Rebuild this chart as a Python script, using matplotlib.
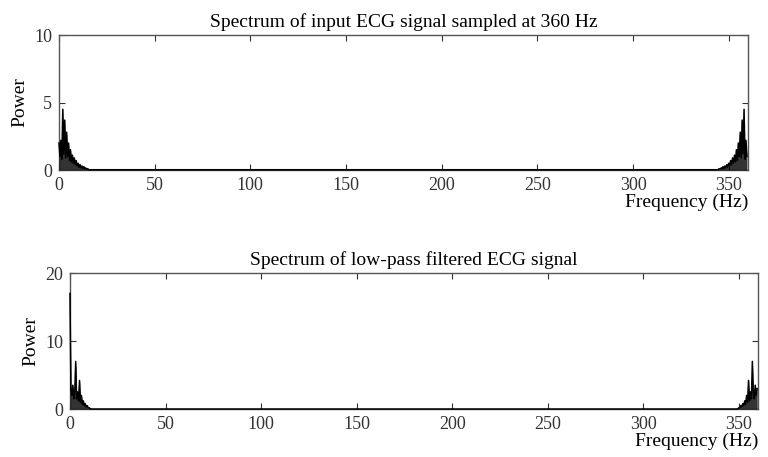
import numpy as np
import matplotlib.pyplot as plt

plt.rcParams['font.family'] = ['Liberation Serif', 'DejaVu Serif']

fs = 360

# one-sided power values (0.5 Hz steps from 0 Hz)
freq_low = np.arange(0, 16.5, 0.5)
power_input = [2.0, 1.0, 2.2, 0.8, 4.5, 1.2, 3.7, 0.9, 2.8, 1.0, 2.0, 0.7,
               1.5, 0.6, 1.1, 0.5, 0.9, 0.4, 0.7, 0.3, 0.5, 0.2, 0.4, 0.15,
               0.3, 0.1, 0.25, 0.1, 0.15, 0.05, 0.1, 0.03, 0.02]
power_filtered = [17.0, 3.0, 2.0, 3.5, 1.5, 2.5, 7.0, 1.5, 2.5, 1.2, 4.2, 1.0,
                  2.0, 0.7, 1.2, 0.5, 0.8, 0.3, 0.5, 0.2, 0.2, 0.05, 0.02,
                  0, 0, 0, 0, 0, 0, 0, 0, 0, 0]


def full_spectrum(p):
    # FFT spectrum is mirrored about fs/2 (DC bin not repeated)
    p = np.asarray(p)
    f = np.concatenate([freq_low, fs - freq_low[1:][::-1]])
    return f, np.concatenate([p, p[1:][::-1]])


fig = plt.figure(figsize=(7.68, 4.57), dpi=100)
ax1 = fig.add_axes([0.0768, 0.628, 0.897, 0.2954])
ax2 = fig.add_axes([0.0911, 0.105, 0.896, 0.2976])

panels = [(ax1, power_input, 'Spectrum of input ECG signal sampled at 360 Hz', [0, 5, 10]),
          (ax2, power_filtered, 'Spectrum of low-pass filtered ECG signal', [0, 10, 20])]

for ax, p, title, yt in panels:
    f, pw = full_spectrum(p)
    ax.fill_between(f, pw, color='black', alpha=0.8, linewidth=0, zorder=3)
    ax.plot(f, pw, color='black', linewidth=1.1, zorder=4, clip_on=False)
    ax.set_xlim(0, 360)
    ax.set_ylim(yt[0], yt[-1])
    ax.set_xticks([0, 50, 100, 150, 200, 250, 300, 350])
    ax.set_yticks(yt)
    ax.tick_params(direction='in', top=True, right=True, length=4,
                   labelsize=13, colors='#333333', pad=5)
    for s in ax.spines.values():
        s.set_color('#555555')
        s.set_linewidth(1.0)
    ax.set_title(title, fontsize=14, pad=6)
    ax.set_ylabel('Power', fontsize=14, labelpad=4)
    ax.set_xlabel('Frequency (Hz)', fontsize=14, loc='right', labelpad=0)

plt.savefig('out.png', dpi=100)
